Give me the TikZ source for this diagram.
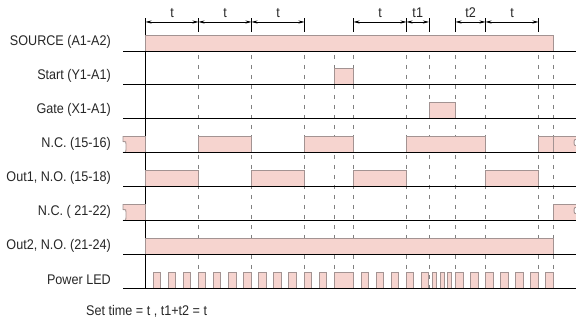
\documentclass[tikz,border=0pt]{standalone}
\usepackage{fontspec}
\setmainfont{Liberation Sans}[FakeStretch=0.9]
\usetikzlibrary{arrows.meta}
\definecolor{onfill}{HTML}{F6D4CF}
\definecolor{onedge}{HTML}{A39392}
\tikzset{
  lvl/.style={fill=onfill,draw=onedge,line width=0.9pt},
  base/.style={line width=0.8pt},
  grid/.style={black!50,dash pattern=on 4.5pt off 5.5pt,line width=0.5pt},
  dim/.style={{Stealth[length=6pt,width=3pt]}-{Stealth[length=6pt,width=3pt]},line width=0.5pt},
  sig/.style={anchor=east,inner sep=0pt,text=black!85,font=\fontsize{14}{16}\selectfont},
  dimlabel/.style={inner sep=0pt,text=black!85,font=\fontsize{14}{16}\selectfont}
}
\newcommand\leftstub[1]{%
  \filldraw[lvl] (145.5,#1) -- (145.5,#1-16) -- (123,#1-16) -- (123,#1-11)
    .. controls (126,#1-11) .. (126,#1-8.5) -- (126,#1-3)
    .. controls (126,#1) .. (123,#1) -- cycle;}
\newcommand\rightstub[1]{%
  \filldraw[lvl] (553.5,#1) -- (553.5,#1-16) -- (578,#1-16) -- (578,#1-13)
    .. controls (574,#1-13) .. (574,#1-10) .. controls (574,#1-7) .. (578,#1-7)
    -- (578,#1) -- cycle;}
\begin{document}
\begin{tikzpicture}[x=1pt,y=-1pt]
  \useasboundingbox (0,0) rectangle (576,331);
  \clip (0,0) rectangle (576,331);

  \foreach \x in {198.5,251.5,304.5,334.5,353.5,406.5,429,455.5,485.5,538.5,553.5}
    \draw[grid] (\x,55) -- (\x,288.5);
  \foreach \x in {198.5,251.5,304.5,353.5,406.5,429,455.5,485.5,538.5}
    \draw[line width=0.6pt] (\x,18.5) -- (\x,32);
  \draw[base] (145.5,18.5) -- (145.5,288.5);

  \foreach \a/\b/\l [count=\i] in {145.5/198.5/t,198.5/251.5/t,251.5/304.5/t,353.5/406.5/t,406.5/429/t1,455.5/485.5/t2,485.5/538.5/t}{
    \draw[dim] (\a,22) -- (\b,22);
    \node[dimlabel] (dim\i) at ({(\a+\b)/2},13) {\l};
  }

  \filldraw[lvl] (145.5,35) rectangle (553.5,51);
  \filldraw[lvl] (334.5,68.5) rectangle (353.5,84.5);
  \filldraw[lvl] (429,102.5) rectangle (455.5,118.5);

  \leftstub{152.5}
  \foreach \a/\b in {198.5/251.5,304.5/353.5,406.5/485.5,538.5/553.5}
    \filldraw[lvl] (\a,136.5) rectangle (\b,152.5);
  \rightstub{152.5}

  \foreach \a/\b in {145.5/198.5,251.5/304.5,353.5/406.5,485.5/538.5}
    \filldraw[lvl] (\a,170.5) rectangle (\b,186.5);

  \leftstub{220.5}
  \rightstub{220.5}

  \filldraw[lvl] (145.5,238.5) rectangle (553.5,254.5);

  \foreach \k in {0,...,11}
    \filldraw[lvl] (153+15.1*\k,272.5) rectangle ++(7.5,16);
  \filldraw[lvl] (334.5,272.5) rectangle (353.5,288.5);
  \foreach \k in {0,...,4}
    \filldraw[lvl] (361+15.1*\k,272.5) rectangle ++(7.5,16);
  \foreach \x in {432.5,440,447.5}
    \filldraw[lvl] (\x,272.5) rectangle ++(4,16);
  \foreach \k in {0,...,6}
    \filldraw[lvl] (455.5+15.05*\k,272.5) rectangle ++(7.5,16);

  \foreach \y in {51,84.5,118.5,152.5,186.5,220.5,254.5,288.5}
    \draw[base] (123,\y) -- (576,\y);

  \node[sig] (source) at (111,42) {SOURCE (A1-A2)};
  \node[sig] (start)  at (111,75.5) {Start (Y1-A1)};
  \node[sig] (gate)   at (111,109.5) {Gate (X1-A1)};
  \node[sig] (nc1)    at (111,143.5) {N.C. (15-16)};
  \node[sig] (out1)   at (111,177.5) {Out1, N.O. (15-18)};
  \node[sig] (nc2)    at (111,211.5) {N.C. ( 21-22)};
  \node[sig] (out2)   at (111,245.5) {Out2, N.O. (21-24)};
  \node[sig] (led)    at (111,280) {Power LED};

  \node[sig,anchor=west] (note) at (86,311) {Set time = t , t1+t2 = t};
\end{tikzpicture}
\end{document}
